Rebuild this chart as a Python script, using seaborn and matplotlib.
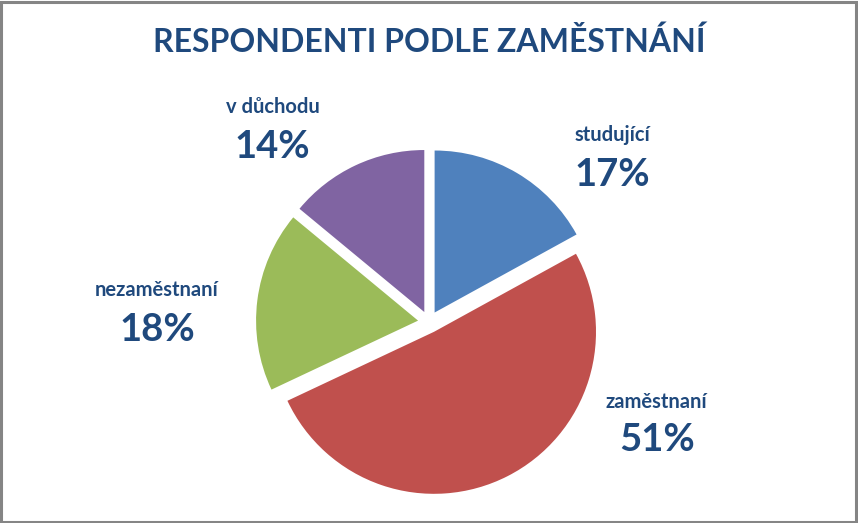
import matplotlib
matplotlib.use("Agg")
import matplotlib.pyplot as plt
import seaborn as sns
from matplotlib.patches import Rectangle

categories = ["studující", "zaměstnaní", "nezaměstnaní", "v důchodu"]
values = [17, 51, 18, 14]
colors = ["#4F81BD", "#C0504D", "#9BBB59", "#8064A2"]
title = "RESPONDENTI PODLE ZAMĚSTNÁNÍ"

sns.set_theme(style="white")
plt.rcParams["font.family"] = ["Lato", "DejaVu Sans"]

W, H = 858, 523
fig = plt.figure(figsize=(W / 100, H / 100), dpi=100)
fig.patch.set_facecolor("white")

R = 162.0
cx, cy = 429.0, 322.0
ax = fig.add_axes([0, 0, 1, 1])
ax.pie(values, colors=sns.color_palette(colors), startangle=90, counterclock=False,
       explode=[0.068] * len(values), radius=1.0,
       wedgeprops=dict(linewidth=0))
ax.set_xlim(-cx / R, (W - cx) / R)
ax.set_ylim(-(H - cy) / R, cy / R)
ax.set_aspect("auto")
ax.axis("off")

txt = "#1F497D"
# label positions (pixel coords, y downward)
pos = {
    "studující": (612, 135, 612, 175),
    "zaměstnaní": (656, 402, 657, 440),
    "nezaměstnaní": (157, 290, 157, 330),
    "v důchodu": (273, 107, 272, 147),
}
for cat, v in zip(categories, values):
    lx, ly, px, py = pos[cat]
    fig.text(lx / W, 1 - ly / H, cat, ha="center", va="center", fontsize=14.5,
             fontweight="bold", color=txt)
    fig.text(px / W, 1 - py / H, f"{v}%", ha="center", va="center", fontsize=27.5,
             fontweight="bold", color=txt)

fig.text(429 / W, 1 - 42 / H, title, ha="center", va="center", fontsize=23,
         fontweight="bold", color=txt)

fig.patches.append(Rectangle((0.0015, 0.002), 0.996, 0.995, transform=fig.transFigure,
                             fill=False, edgecolor="#858585", linewidth=2.2))

fig.savefig("out.png", dpi=100, facecolor="white")
